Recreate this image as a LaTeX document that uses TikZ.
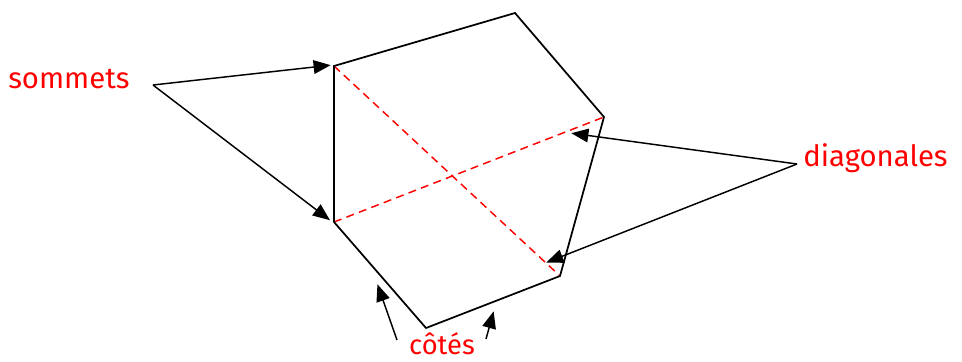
\documentclass[tikz,border=0pt]{standalone}
\usepackage{fontspec}
\setmainfont{Fira Sans}
\usetikzlibrary{arrows.meta, positioning}
\definecolor{LabelRed}{HTML}{FF0000}

\begin{document}
\begin{tikzpicture}[x=0.75pt, y=-0.75pt,
          side/.style={draw=black, line width=1.3pt, line join=miter},
          diag/.style={draw=LabelRed, line width=1.1pt, dash pattern=on 6pt off 4pt},
          lbl/.style={text=LabelRed, font=\fontsize{22}{26}\selectfont, inner sep=0pt},
          arr/.style={-{Triangle[length=4.5mm, width=3.6mm]}, line width=1.1pt, color=black, shorten >=1pt}
        ]
          \useasboundingbox (0,0) rectangle (962,361);
          % vertices of the polygon
          \coordinate (v1) at (334,66);
          \coordinate (v2) at (515,13);
          \coordinate (v3) at (604,117);
          \coordinate (v4) at (560,276);
          \coordinate (v5) at (426,328);
          \coordinate (v6) at (334,222);
          % diagonals
          \draw[diag] (v1)--(v4);
          \draw[diag] (v6)--(v3);
          % sides
          \draw[side] (v1)--(v2)--(v3)--(v4)--(v5)--(v6)--cycle;
          % labels
          \node[lbl, anchor=base west] (som) at (8,88) {sommets};
          \node[lbl, anchor=base west] (dia) at (803,166) {diagonales};
          \node[lbl, anchor=base, font=\fontsize{20.5}{24}\selectfont] (cot) at (442,354) {côtés};
          \coordinate (somA) at (153,85);
          \coordinate (diaA) at (797,164);
          \coordinate (cotA) at (397,340);
          \coordinate (cotB) at (486,339);
          \coordinate (tip1) at (332,65);
          \coordinate (tip2) at (331,221);
          \coordinate (tip3) at (570,133);
          \coordinate (tip4) at (545,263);
          \coordinate (tip5) at (377,283);
          \coordinate (tip6) at (494,310);
          \draw[arr] (somA)--(tip1);
          \draw[arr] (somA)--(tip2);
          \draw[arr] (diaA)--(tip3);
          \draw[arr] (diaA)--(tip4);
          \draw[arr] (cotA)--(tip5);
          \draw[arr] (cotB)--(tip6);
        \end{tikzpicture}
\end{document}
